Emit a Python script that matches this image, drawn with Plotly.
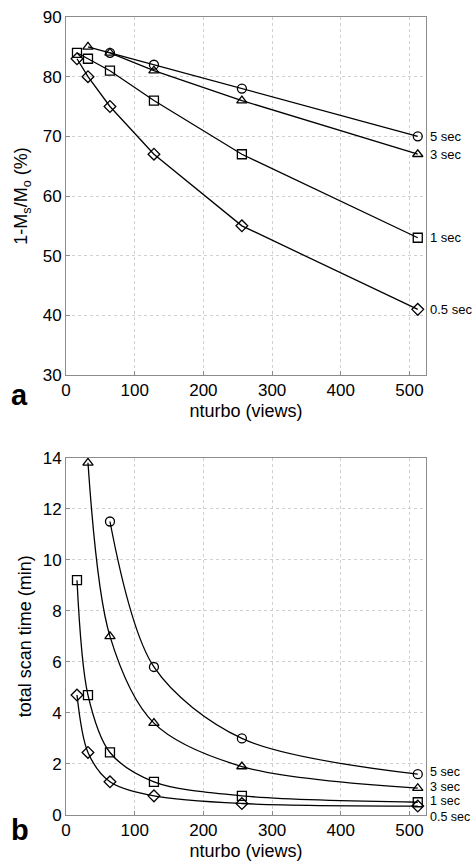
import plotly.graph_objects as go

# ---- data ----
nturbo = [16, 32, 64, 128, 256, 512]
series_names = ["5 sec", "3 sec", "1 sec", "0.5 sec"]
symbols = ["circle-open", "triangle-up-open", "square-open", "diamond-open"]

# panel a: 1 - Ms/Mo (%)
sat_5s = [None, None, 84, 82, 78, 70]
sat_3s = [None, 85, 84, 81, 76, 67]
sat_1s = [84, 83, 81, 76, 67, 53]
sat_05s = [83, 80, 75, 67, 55, 41]

# panel b: total scan time (min)
time_5s = [None, None, 11.5, 5.8, 3.0, 1.6]
time_3s = [None, 13.8, 7.0, 3.6, 1.9, 1.05]
time_1s = [9.2, 4.7, 2.45, 1.3, 0.75, 0.5]
time_05s = [4.7, 2.45, 1.3, 0.75, 0.45, 0.35]

# label heights next to the curves' ends
label_y_a = [70, 67, 53, 41]
label_y_b = [1.68, 1.08, 0.5, 0.0]
label_shift_b = [0, 0, 1, -2]

sat = [sat_5s, sat_3s, sat_1s, sat_05s]
tim = [time_5s, time_3s, time_1s, time_05s]

FONT = "Liberation Sans, Arial, Helvetica, sans-serif"

W, H = 473, 861
ML, MR, MT, MB = 66, 47, 17, 46
PW, PH = W - ML - MR, H - MT - MB


def px_x(px):
    return (px - ML) / PW


def px_y(py):
    return (H - MB - py) / PH


fig = go.Figure()


def clean(xs, ys):
    pts = [(x, y) for x, y in zip(xs, ys) if y is not None]
    return [p[0] for p in pts], [p[1] for p in pts]


for ys, sym in zip(sat, symbols):
    x, y = clean(nturbo, ys)
    fig.add_trace(go.Scatter(x=x, y=y, mode="lines+markers", xaxis="x", yaxis="y",
                             line=dict(color="black", width=1.3),
                             marker=dict(symbol=sym, size=9, color="black",
                                         line=dict(width=1.3, color="black")),
                             showlegend=False, cliponaxis=False))

for ys, sym in zip(tim, symbols):
    x, y = clean(nturbo, ys)
    fig.add_trace(go.Scatter(x=x, y=y, mode="lines+markers", xaxis="x2", yaxis="y2",
                             line=dict(color="black", width=1.3, shape="spline", smoothing=0.9),
                             marker=dict(symbol=sym, size=9, color="black",
                                         line=dict(width=1.3, color="black")),
                             showlegend=False, cliponaxis=False))

annotations = []
for name, ly in zip(series_names, label_y_a):
    annotations.append(dict(x=px_x(428), y=ly, xref="paper", yref="y", text=name, showarrow=False,
                            xanchor="left", yanchor="middle",
                            font=dict(family=FONT, size=13, color="black")))
for name, ly, sh in zip(series_names, label_y_b, label_shift_b):
    annotations.append(dict(x=px_x(428), y=ly, xref="paper", yref="y2", text=name, showarrow=False,
                            xanchor="left", yanchor="middle", yshift=sh,
                            font=dict(family=FONT, size=12.5, color="black")))

annotations.append(dict(x=px_x(19), y=px_y(395), xref="paper", yref="paper", text="<b>a</b>",
                        showarrow=False, xanchor="center", yanchor="middle",
                        font=dict(family=FONT, size=29, color="black")))
annotations.append(dict(x=px_x(20), y=px_y(830), xref="paper", yref="paper", text="<b>b</b>",
                        showarrow=False, xanchor="center", yanchor="middle",
                        font=dict(family=FONT, size=29, color="black")))

axis_common = dict(showline=True, linecolor="#8c8c8c", linewidth=1, mirror=True,
                   ticks="inside", ticklen=4, tickcolor="#8c8c8c",
                   showgrid=True, gridcolor="#d0d0d0", griddash="dot", gridwidth=1,
                   zeroline=False, automargin=False,
                   tickfont=dict(family=FONT, size=17, color="black"))

xdom = [0, 1]

fig.update_layout(
    width=W, height=H,
    margin=dict(l=ML, r=MR, t=MT, b=MB, autoexpand=False),
    paper_bgcolor="white", plot_bgcolor="white",
    annotations=annotations,
    xaxis=dict(domain=xdom, anchor="y", range=[0, 524], tickvals=[0, 100, 200, 300, 400, 500],
               title=dict(text="nturbo (views)", standoff=4,
                          font=dict(family=FONT, size=18, color="black")),
               **axis_common),
    yaxis=dict(domain=[px_y(375), 1], anchor="x", range=[30, 90],
               tickvals=[30, 40, 50, 60, 70, 80, 90],
               title=dict(text="1-M<sub>s</sub>/M<sub>o</sub> (%)", standoff=10,
                          font=dict(family=FONT, size=18, color="black")),
               **axis_common),
    xaxis2=dict(domain=xdom, anchor="y2", range=[0, 524], tickvals=[0, 100, 200, 300, 400, 500],
                title=dict(text="nturbo (views)", standoff=4,
                           font=dict(family=FONT, size=18, color="black")),
                **axis_common),
    yaxis2=dict(domain=[0, px_y(457.7)], anchor="x2", range=[0, 14],
                tickvals=[0, 2, 4, 6, 8, 10, 12, 14],
                title=dict(text="total scan time (min)", standoff=6,
                           font=dict(family=FONT, size=18, color="black")),
                **axis_common),
)

fig.write_html("out.html", config={"displayModeBar": False},
               post_script="document.body.style.margin='0';document.body.style.overflow='hidden';")
